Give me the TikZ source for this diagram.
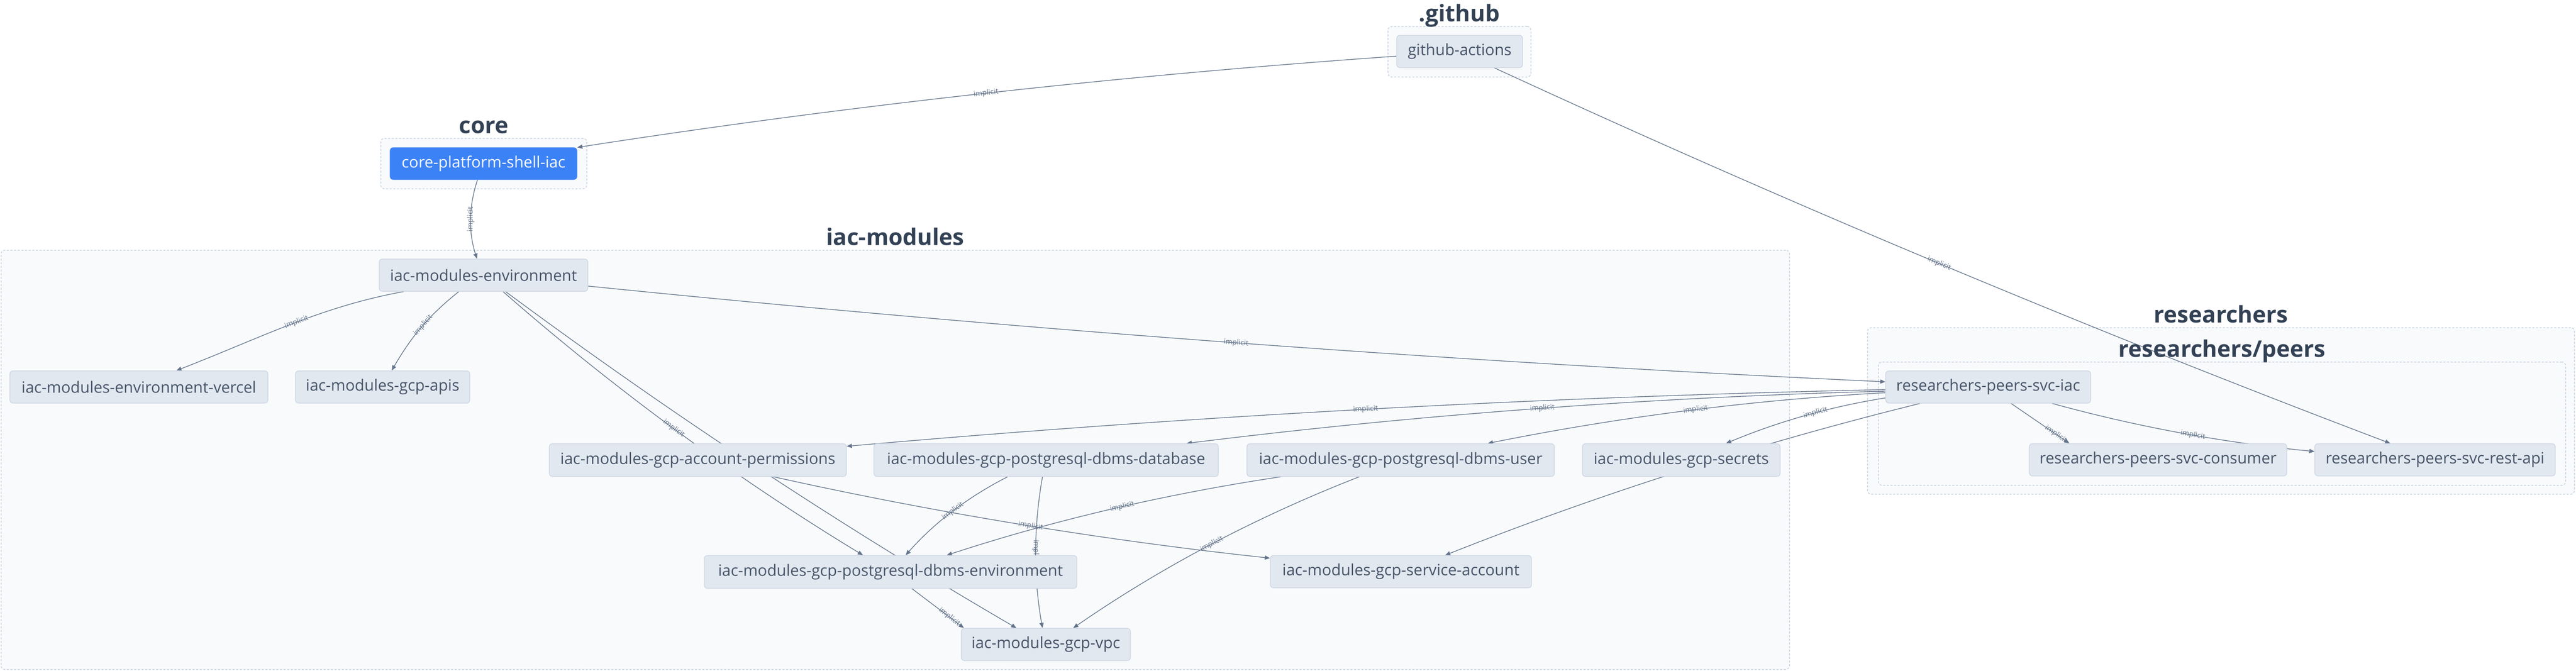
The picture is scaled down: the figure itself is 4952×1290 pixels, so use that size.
\documentclass[tikz,border=0pt]{standalone}
\usepackage{fontspec}
\setmainfont{Open Sans}
\usetikzlibrary{arrows.meta}
\definecolor{nodefill}{HTML}{E2E8F0}
\definecolor{nodeline}{HTML}{CBD5E1}
\definecolor{nodetext}{HTML}{475569}
\definecolor{titletext}{HTML}{334155}
\definecolor{edgecol}{HTML}{64748B}
\definecolor{groupfill}{HTML}{F8FAFC}
\definecolor{groupline}{HTML}{CBD5E1}
\definecolor{corefill}{HTML}{3B82F6}
\pgfdeclarelayer{groups}
\pgfdeclarelayer{edges}
\pgfsetlayers{groups,edges,main}
\tikzset{
  mod/.style={draw=nodeline, line width=1.2pt, fill=nodefill, rounded corners=6pt,
    text=nodetext, font=\fontsize{30}{36}\selectfont, inner sep=0pt, minimum height=62pt},
  coremod/.style={mod, fill=corefill, draw=corefill, text=white},
  grp/.style={draw=groupline, fill=groupfill, dash pattern=on 4pt off 3pt,
    line width=1.5pt, rounded corners=7pt, inner sep=0pt},
  grptitle/.style={anchor=base, text=titletext, font=\fontsize{44}{50}\selectfont\bfseries, inner sep=0pt},
  dep/.style={draw=edgecol, line width=1.3pt, -{Triangle[length=10pt,width=8pt]}},
  lbl/.style={font=\fontsize{14}{16}\selectfont, text=edgecol, sloped, inner sep=0pt}
}
\begin{document}
\begin{tikzpicture}[x=1pt,y=-1pt]
\useasboundingbox (0,0) rectangle (4952,1290);
% nodes
\node[mod, minimum width=242pt] (gha) at (2806,99) {github-actions};
\node[coremod, minimum width=359pt, minimum height=61pt] (core) at (929.5,314.5) {core-platform-shell-iac};
\node[mod, minimum width=401pt] (env) at (929.5,529) {iac-modules-environment};
\node[mod, minimum width=496pt] (vercel) at (267,744) {iac-modules-environment-vercel};
\node[mod, minimum width=335pt] (apis) at (735.5,744) {iac-modules-gcp-apis};
\node[mod, minimum width=571pt, minimum height=63pt] (acct) at (1341.5,884.5) {iac-modules-gcp-account-permissions};
\node[mod, minimum width=662pt, minimum height=63pt] (db) at (2011,884.5) {iac-modules-gcp-postgresql-dbms-database};
\node[mod, minimum width=591pt, minimum height=63pt] (user) at (2692.5,884.5) {iac-modules-gcp-postgresql-dbms-user};
\node[mod, minimum width=380pt, minimum height=63pt] (secrets) at (3232,884.5) {iac-modules-gcp-secrets};
\node[mod, minimum width=716pt, minimum height=63pt] (dbmsenv) at (1712,1099.5) {iac-modules-gcp-postgresql-dbms-environment};
\node[mod, minimum width=502pt] (svcacct) at (2693,1099) {iac-modules-gcp-service-account};
\node[mod, minimum width=325pt] (vpc) at (2010.5,1239) {iac-modules-gcp-vpc};
\node[mod, minimum width=394pt] (svciac) at (3822,744) {researchers-peers-svc-iac};
\node[mod, minimum width=495pt] (consumer) at (4148.5,884) {researchers-peers-svc-consumer};
\node[mod, minimum width=462pt] (restapi) at (4681,884) {researchers-peers-svc-rest-api};
% groups
\begin{pgfonlayer}{groups}
\fill[white] (0,0) rectangle (4952,1290);
\node[grp, minimum width=275pt, minimum height=97pt] (ggithub) at (2805.5,99.5) {};
\node[grp, minimum width=396pt, minimum height=97pt] (gcore) at (930,314.5) {};
\node[grp, minimum width=3438pt, minimum height=806pt] (giac) at (1721,884) {};
\node[grp, minimum width=1359pt, minimum height=320pt] (gres) at (4269.5,790) {};
\node[grp, minimum width=1321pt, minimum height=237pt] (gpeers) at (4271.5,814.5) {};
\end{pgfonlayer}
\node[grptitle] (tgithub) at ([yshift=9pt]ggithub.north) {.github};
\node[grptitle] (tcore) at ([yshift=9pt]gcore.north) {core};
\node[grptitle] (tiac) at ([yshift=9pt]giac.north) {iac-modules};
\node[grptitle] (tres) at ([yshift=9pt]gres.north) {researchers};
\node[grptitle] (tpeers) at ([yshift=9pt]gpeers.north) {researchers/peers};
% edges
\begin{pgfonlayer}{edges}
\draw[dep] ([yshift=-9pt]gha.west) .. controls +(-527,37) and +(523,-81) .. node[lbl]{implicit} (core.north east);
\draw[dep] ([xshift=67pt]gha.south) .. controls +(565.5,261) and +(-582.5,-221) .. node[lbl]{implicit} ([xshift=-86pt]restapi.north);
\draw[dep] ([xshift=-11.5pt]core.south) .. controls +(-17,50) and +(-16.4,-50) .. node[lbl]{implicit} ([xshift=-12.5pt]env.north);
\draw[dep] ([xshift=-153.5pt]env.south) .. controls +(-160,29) and +(160,-62) .. node[lbl,pos=0.47]{implicit} ([xshift=72pt]vercel.north);
\draw[dep] ([xshift=-47.5pt]env.south) .. controls +(-58.5,46.5) and +(37.5,-64.5) .. node[lbl,pos=0.47]{implicit} ([xshift=17.5pt]apis.north);
\draw[dep] ([yshift=-21pt]env.east) .. controls +(830,84) and +(-833.4,-38.7) .. node[lbl]{implicit} ([yshift=10pt]svciac.west);
\draw[dep] ([xshift=37.5pt]env.south) .. controls +(216,189) and +(-245.3,-149.1) .. node[lbl,pos=0.49]{implicit} ([xshift=-53pt]dbmsenv.north);
\draw[dep] ([xshift=42.5pt]env.south) .. controls +(315.4,233.8) and +(-339.2,-197.6) .. ([xshift=-56.5pt]vpc.north);
\draw[dep] ([xshift=145.5pt]acct.south) .. controls +(314.8,70) and +(-320.6,-34.6) .. node[lbl,pos=0.52]{implicit} ([yshift=26pt]svcacct.west);
\draw[dep] ([xshift=-74pt]db.south) .. controls +(-75,38.2) and +(55.6,-63.2) .. node[lbl]{implicit} ([xshift=29pt]dbmsenv.north);
\draw[dep] ([xshift=-7pt]db.south) .. controls +(-17.3,97.3) and +(-17.3,-97.3) .. node[lbl]{implicit} ([xshift=-6.5pt]vpc.north);
\draw[dep] ([xshift=-230.5pt]user.south) .. controls +(-218.3,32.7) and +(209.7,-68.7) .. node[lbl,pos=0.47]{implicit} ([xshift=108pt]dbmsenv.north);
\draw[dep] ([xshift=-79.5pt]user.south) .. controls +(-194.7,75.8) and +(171.9,-118.8) .. node[lbl]{implicit} ([xshift=52.5pt]vpc.north);
\draw[dep] ([xshift=41pt]dbmsenv.south) -- node[lbl,pos=0.72]{implicit} ([xshift=-157.5pt]vpc.north);
\draw[dep] ([yshift=-5pt]svciac.west) .. controls +(-666.5,14.2) and +(664.1,-58.4) .. node[lbl]{implicit} ([yshift=26.5pt]acct.east);
\draw[dep] ([yshift=-8pt]svciac.west) .. controls +(-449.6,11.9) and +(446.4,-55.5) .. node[lbl,pos=0.49]{implicit} ([xshift=270pt]db.north);
\draw[dep] ([yshift=-11pt]svciac.west) .. controls +(-257.3,13.9) and +(252.7,-50.7) .. node[lbl,pos=0.475]{implicit} ([xshift=167.5pt]user.north);
\draw[dep] ([yshift=-21pt]svciac.west) .. controls +(-105.8,16.7) and +(98.8,-41.3) .. node[lbl,pos=0.43]{implicit} ([xshift=86pt]secrets.north);
\draw[dep] ([xshift=-131pt]svciac.south) .. controls +(-310.9,76.7) and +(297.7,-117.9) .. ([xshift=85pt]svcacct.north);
\draw[dep] ([xshift=44pt]svciac.south) -- node[lbl,pos=0.77]{implicit} ([xshift=-170.5pt]consumer.north);
\draw[dep] ([xshift=123pt]svciac.south) .. controls +(165.3,45.6) and +(-170.7,-16.4) .. node[lbl,pos=0.54]{implicit} ([yshift=16pt]restapi.west);
\end{pgfonlayer}
\end{tikzpicture}
\end{document}
